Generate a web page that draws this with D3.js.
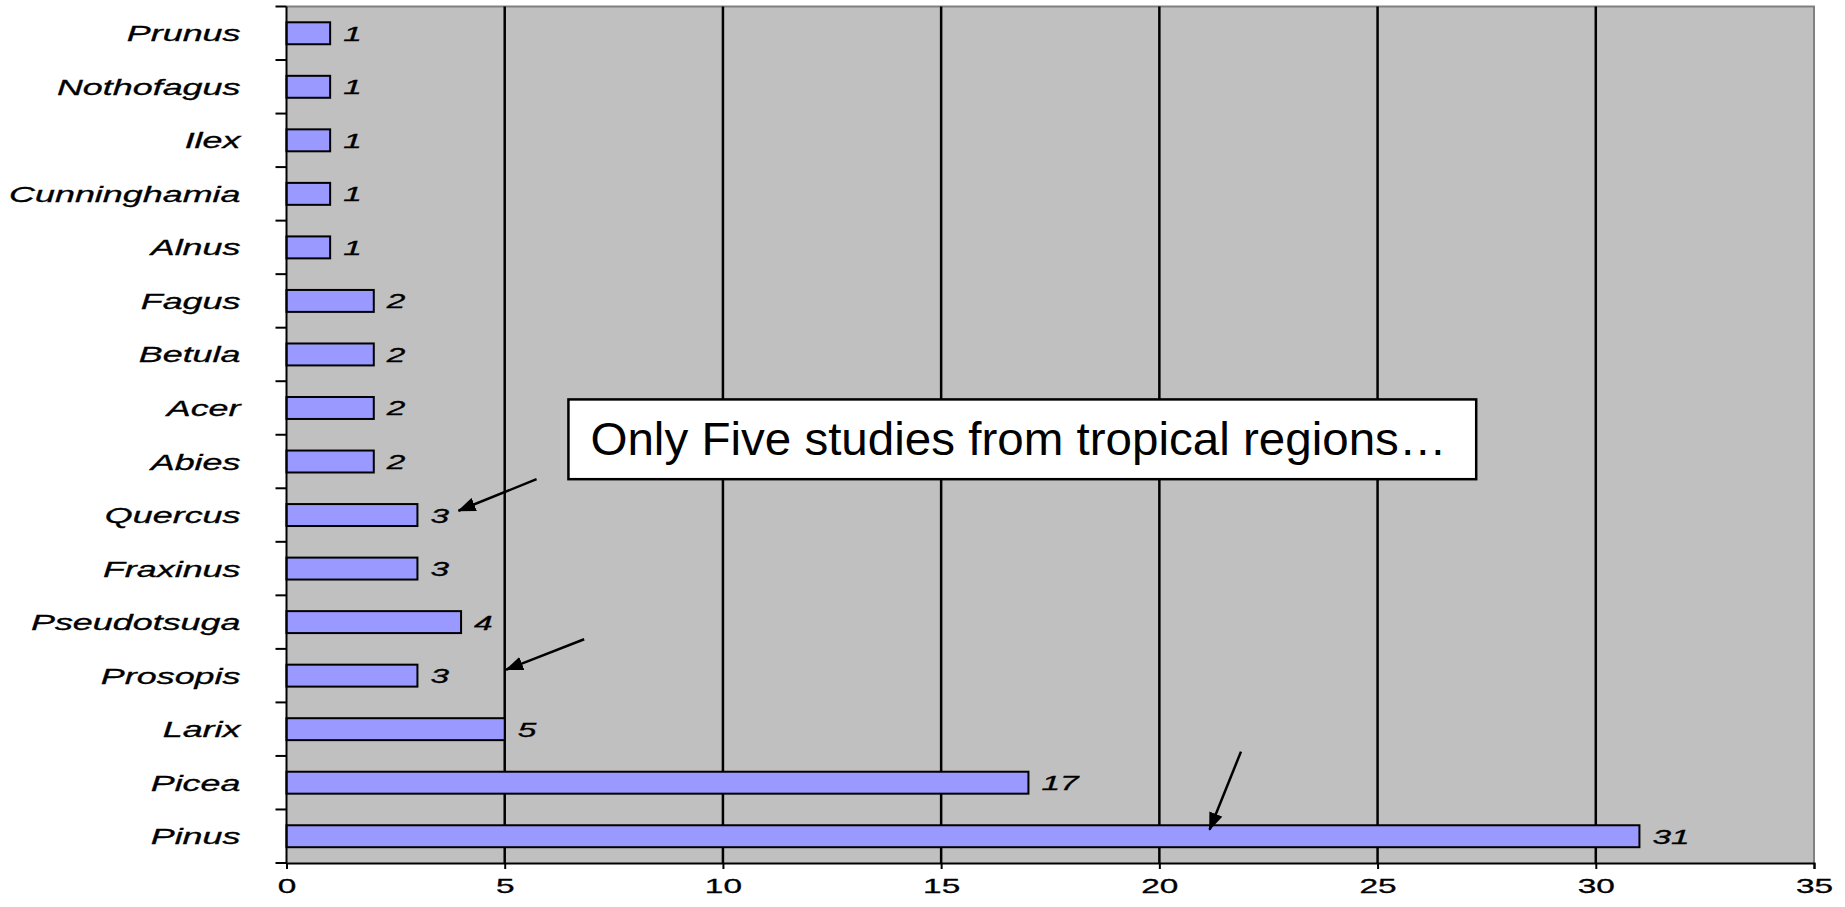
<!DOCTYPE html>
<html>
<head>
<meta charset="utf-8">
<script src="https://cdn.jsdelivr.net/npm/d3@7"></script>
<style>
  body { margin: 0; background: #ffffff; }
  svg { display: block; }
  text { font-family: "Liberation Sans", Arial, sans-serif; fill: #000; }
</style>
</head>
<body>
<div class="chart-container"></div>
<script>
var genera = ["Prunus", "Nothofagus", "Ilex", "Cunninghamia", "Alnus", "Fagus", "Betula", "Acer",
  "Abies", "Quercus", "Fraxinus", "Pseudotsuga", "Prosopis", "Larix", "Picea", "Pinus"];
var studies = [1, 1, 1, 1, 1, 2, 2, 2, 2, 3, 3, 4, 3, 5, 17, 31];
var xTicks = [0, 5, 10, 15, 20, 25, 30, 35];

var note = "Only Five studies from tropical regions\u2026";
// arrows in chart units: [value, row] -> [value, row]
var arrows = [
  [[5.73, 8.83], [3.94, 9.42]],
  [[6.82, 11.82], [5.03, 12.39]],
  [[21.87, 13.92], [21.15, 15.38]]
];

var data = genera.map(function(g, i) { return {genus: g, count: studies[i]}; });

var width = 1845, height = 907;
var margin = {top: 6.5, right: 31, bottom: 44, left: 286.5};
var stretch = 1.67; // the original picture is stretched sideways

var svg = d3.select("div.chart-container")
  .append("svg")
  .attr("width", width)
  .attr("height", height);

var x = d3.scaleLinear()
  .domain([0, 35])
  .range([margin.left, width - margin.right]);
var y = d3.scaleBand()
  .domain(genera)
  .range([margin.top, height - margin.bottom])
  .paddingInner(0.59)
  .paddingOuter(0.295);
var row = d3.scaleLinear()
  .domain([0, genera.length])
  .range([margin.top, height - margin.bottom]);

var plotTop = margin.top, plotBottom = height - margin.bottom;

// Plot background
svg.append("rect")
  .attr("x", x(0))
  .attr("y", plotTop)
  .attr("width", x(35) - x(0))
  .attr("height", plotBottom - plotTop)
  .attr("fill", "#c0c0c0");

// Top and right border
svg.append("path")
  .attr("d", "M" + x(0) + "," + plotTop + "H" + x(35) + "V" + plotBottom)
  .attr("fill", "none")
  .attr("stroke", "#808080")
  .attr("stroke-width", 2);

// Vertical gridlines
svg.selectAll(".grid")
  .data(xTicks.slice(1, -1))
  .enter()
  .append("line")
  .attr("class", "grid")
  .attr("x1", function(d) { return x(d); })
  .attr("x2", function(d) { return x(d); })
  .attr("y1", plotTop)
  .attr("y2", plotBottom)
  .attr("stroke", "#000")
  .attr("stroke-width", 2.5);

// Bars
svg.selectAll(".bar")
  .data(data)
  .enter()
  .append("rect")
  .attr("class", "bar")
  .attr("x", x(0))
  .attr("y", function(d) { return y(d.genus); })
  .attr("width", function(d) { return x(d.count) - x(0); })
  .attr("height", y.bandwidth())
  .attr("fill", "#9999ff")
  .attr("stroke", "#000")
  .attr("stroke-width", 2);

// Value labels
svg.selectAll(".value")
  .data(data)
  .enter()
  .append("text")
  .attr("class", "value")
  .attr("transform", function(d) {
    return "translate(" + (x(d.count) + 13) + "," + (y(d.genus) + y.bandwidth() / 2 + 7.5) + ") scale(" + stretch + ",1)";
  })
  .attr("font-size", 20)
  .attr("font-style", "italic")
  .attr("stroke", "#000")
  .attr("stroke-width", 0.3)
  .text(function(d) { return d.count; });

// Draw x-axis
var xAxis = svg.append("g")
  .attr("transform", "translate(0," + plotBottom + ")")
  .call(d3.axisBottom(x).tickValues(xTicks).tickSizeOuter(0).tickSize(6).tickPadding(10));
xAxis.select(".domain").attr("stroke", "#000").attr("stroke-width", 2);
xAxis.selectAll(".tick line").attr("stroke", "#000").attr("stroke-width", 2);
xAxis.selectAll(".tick text")
  .attr("font-size", 20)
  .attr("font-family", null)
  .attr("stroke", "#000")
  .attr("stroke-width", 0.3)
  .attr("transform", "scale(" + stretch + ",1)");

// Draw y-axis with ticks between categories
var yAxis = svg.append("g");
yAxis.append("line")
  .attr("x1", x(0)).attr("x2", x(0))
  .attr("y1", plotTop).attr("y2", plotBottom)
  .attr("stroke", "#000")
  .attr("stroke-width", 2);
yAxis.selectAll(".ytick")
  .data(d3.range(genera.length + 1))
  .enter()
  .append("line")
  .attr("class", "ytick")
  .attr("x1", x(0) - 11)
  .attr("x2", x(0))
  .attr("y1", function(d) { return row(d); })
  .attr("y2", function(d) { return row(d); })
  .attr("stroke", "#000")
  .attr("stroke-width", 2);
yAxis.selectAll(".ylabel")
  .data(genera)
  .enter()
  .append("text")
  .attr("class", "ylabel")
  .attr("text-anchor", "end")
  .attr("transform", function(d) {
    return "translate(" + (x(0) - 46) + "," + (y(d) + y.bandwidth() / 2 + 8) + ") scale(" + stretch + ",1)";
  })
  .attr("font-size", 21.5)
  .attr("font-style", "italic")
  .attr("stroke", "#000")
  .attr("stroke-width", 0.3)
  .text(function(d) { return d; });

// Annotation box
var box = svg.append("g");
box.append("rect")
  .attr("x", x(6.46))
  .attr("y", row(7.34))
  .attr("width", x(27.26) - x(6.46))
  .attr("height", row(8.83) - row(7.34))
  .attr("fill", "#fff")
  .attr("stroke", "#000")
  .attr("stroke-width", 2.5);
box.append("text")
  .attr("x", x(6.46) + 22)
  .attr("y", row(8.83) - 24.5)
  .attr("font-size", 46.5)
  .attr("textLength", 856)
  .attr("lengthAdjust", "spacingAndGlyphs")
  .text(note);

// Arrows
svg.append("defs").append("marker")
  .attr("id", "head")
  .attr("markerUnits", "userSpaceOnUse")
  .attr("markerWidth", 18)
  .attr("markerHeight", 14)
  .attr("refX", 17)
  .attr("refY", 7)
  .attr("orient", "auto")
  .append("path")
  .attr("d", "M0,0L18,7L0,14Z")
  .attr("fill", "#000");

svg.selectAll(".arrow")
  .data(arrows)
  .enter()
  .append("line")
  .attr("class", "arrow")
  .attr("x1", function(d) { return x(d[0][0]); })
  .attr("y1", function(d) { return row(d[0][1]); })
  .attr("x2", function(d) { return x(d[1][0]); })
  .attr("y2", function(d) { return row(d[1][1]); })
  .attr("stroke", "#000")
  .attr("stroke-width", 2.5)
  .attr("marker-end", "url(#head)");
</script>
</body>
</html>
